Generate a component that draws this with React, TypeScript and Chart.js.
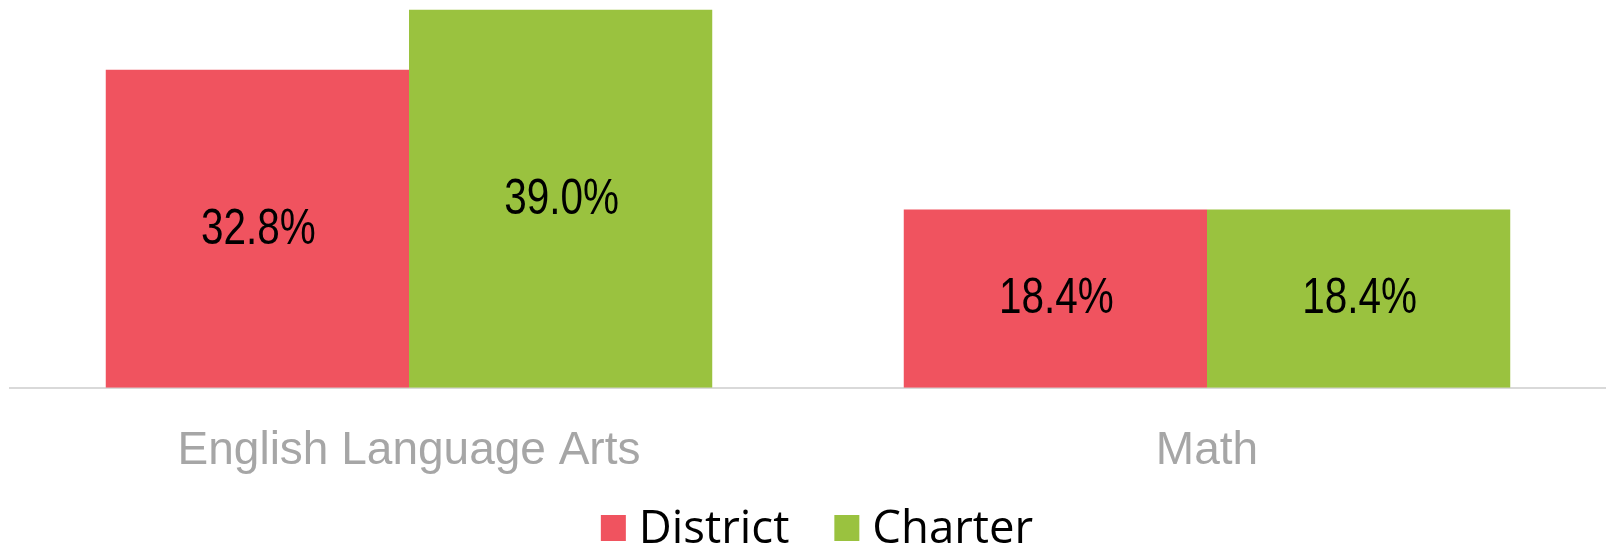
import React, { useEffect, useRef } from "react";
import { Chart, registerables } from "chart.js";

Chart.register(...registerables);

const categories = ["English Language Arts", "Math"];
const seriesNames = ["District", "Charter"];
const districtValues = [32.8, 18.4];
const charterValues = [39.0, 18.4];
const seriesColors = ["#F0535F", "#9AC23F"];
const yMax = 40;

const LABEL_FONT = '"Liberation Sans", sans-serif';
const AXIS_FONT = '"Liberation Sans", sans-serif';
const LEGEND_FONT = '"Open Sans", sans-serif';

const valueLabelPlugin = {
  id: "valueLabels",
  afterDatasetsDraw(chart: any) {
    const ctx = chart.ctx;
    const sx = 0.81;
    chart.data.datasets.forEach((ds: any, di: number) => {
      const meta = chart.getDatasetMeta(di);
      meta.data.forEach((el: any, i: number) => {
        const v = ds.data[i];
        const y = (el.y + el.base) / 2;
        ctx.save();
        ctx.translate(el.x + 1, y + 1);
        ctx.scale(sx, 1);
        ctx.font = `50px ${LABEL_FONT}`;
        ctx.fillStyle = "#000000";
        ctx.textAlign = "center";
        ctx.textBaseline = "middle";
        ctx.fillText(v.toFixed(1) + "%", 0, 0);
        ctx.restore();
      });
    });
  },
};

const bottomLegendPlugin = {
  id: "bottomLegend",
  afterDraw(chart: any) {
    const ctx = chart.ctx;
    ctx.save();
    ctx.font = `45.5px ${LEGEND_FONT}`;
    const box = 25;
    const gap = 13;
    const itemGap = 45;
    const items = chart.data.datasets.map((ds: any) => ({
      label: ds.label,
      color: ds.backgroundColor,
      w: ctx.measureText(ds.label).width,
    }));
    let total = 0;
    items.forEach((it: any, i: number) => {
      total += box + gap + it.w + (i < items.length - 1 ? itemGap : 0);
    });
    const center = (chart.chartArea.left + chart.chartArea.right) / 2 + 9;
    let x = center - total / 2;
    const baseline = 543;
    items.forEach((it: any) => {
      ctx.fillStyle = it.color;
      ctx.fillRect(x, 515, box, 26);
      ctx.fillStyle = "#000000";
      ctx.textAlign = "left";
      ctx.textBaseline = "alphabetic";
      ctx.fillText(it.label, x + box + gap, baseline);
      x += box + gap + it.w + itemGap;
    });
    ctx.restore();
  },
};

export default function App() {
  const canvasRef = useRef<HTMLCanvasElement | null>(null);

  useEffect(() => {
    let chart: Chart | null = null;
    let cancelled = false;
    const make = () => {
      if (cancelled || !canvasRef.current) return;
      chart = new Chart(canvasRef.current, {
        type: "bar",
        data: {
          labels: categories,
          datasets: [
            {
              label: seriesNames[0],
              data: districtValues,
              backgroundColor: seriesColors[0],
              borderWidth: 0,
              categoryPercentage: 0.76,
              barPercentage: 1.0,
            },
            {
              label: seriesNames[1],
              data: charterValues,
              backgroundColor: seriesColors[1],
              borderWidth: 0,
              categoryPercentage: 0.76,
              barPercentage: 1.0,
            },
          ],
        },
        options: {
          responsive: false,
          animation: false,
          layout: { padding: { left: 10, right: 0, top: 0, bottom: 33 } },
          plugins: {
            legend: { display: false },
            tooltip: { enabled: false },
          },
          scales: {
            x: {
              grid: { display: false, drawTicks: false },
              border: { display: true, color: "#D9D9D9", width: 2 },
              ticks: {
                color: "#A6A6A6",
                padding: 35.5,
                font: { family: AXIS_FONT, size: 46 },
                maxRotation: 0,
              },
            },
            y: {
              display: false,
              min: 0,
              max: yMax,
            },
          },
        },
        plugins: [valueLabelPlugin, bottomLegendPlugin],
      });
    };
    const fonts = [
      `50px ${LABEL_FONT}`,
      `46px ${AXIS_FONT}`,
      `45.5px ${LEGEND_FONT}`,
    ];
    Promise.all(fonts.map((f) => document.fonts.load(f).catch(() => null)))
      .then(make, make);
    return () => {
      cancelled = true;
      if (chart) chart.destroy();
    };
  }, []);

  return (
    <canvas
      ref={canvasRef}
      width={1606}
      height={547}
      style={{ position: "absolute", left: 0, top: 0, display: "block", width: 1606, height: 547 }}
    />
  );
}
